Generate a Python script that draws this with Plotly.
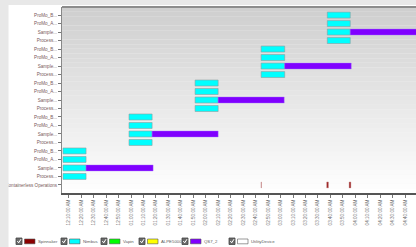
import plotly.graph_objects as go
import pandas as pd

# ---------------- data ----------------
day = "2021-06-14 "
group_labels = ["Process...", "Sample...", "ProMo_A...", "ProMo_B..."]
row_ids = ["Containerless Operations"] + [f"{lab} #{g}" for g in range(1, 6) for lab in ["Process", "Sample", "ProMo_A", "ProMo_B"]]
row_labels = ["Containerless Operations"] + [lab for g in range(5) for lab in group_labels]

nimbus_start = ["00:05:24", "00:58:24", "01:51:24", "02:44:24", "03:37:30"]
nimbus_end = ["00:23:54", "01:16:54", "02:09:54", "03:03:18", "03:55:54"]

qs7_start = ["00:23:54", "01:16:54", "02:09:54", "03:03:18", "03:55:54"]
qs7_end = ["01:17:42", "02:09:54", "03:02:54", "03:56:42", "05:00:00"]

spin_start = ["02:44:18", "03:37:00", "03:55:00"]
spin_end = ["02:44:36", "03:38:24", "03:56:24"]

legend_names = ["Spinnaker", "Nimbus", "Vapin", "ALPE5000", "QS7_2", "UtilityDevice"]
legend_colors = ["#8b0000", "#00ffff", "#00ff00", "#ffff00", "#8000ff", "#ffffff"]

x_range = ["00:04:36", "04:48:40"]
tick_start = "00:10:00"

# ---------------- build ----------------
def ts(t):
    return pd.Timestamp(day + t)

fig = go.Figure()

nb_y, nb_base, nb_x = [], [], []
for g in range(5):
    for lab in ["Process", "Sample", "ProMo_A", "ProMo_B"]:
        nb_y.append(f"{lab} #{g+1}")
        s, e = ts(nimbus_start[g]), ts(nimbus_end[g])
        nb_base.append(s)
        nb_x.append((e - s).total_seconds() * 1000)

qs_y = [f"Sample #{g+1}" for g in range(5)]
qs_base = [ts(s) for s in qs7_start]
qs_x = [(ts(e) - ts(s)).total_seconds() * 1000 for s, e in zip(qs7_start, qs7_end)]

sp_y = ["Containerless Operations"] * len(spin_start)
sp_base = [ts(s) for s in spin_start]
sp_x = [(ts(e) - ts(s)).total_seconds() * 1000 for s, e in zip(spin_start, spin_end)]

fig.add_trace(go.Bar(y=sp_y, x=sp_x, base=sp_base, orientation="h", name="Spinnaker",
                     marker=dict(color="#9b2020", line=dict(width=0.4, color="#c89090"))))
fig.add_trace(go.Bar(y=nb_y, x=nb_x, base=nb_base, orientation="h", name="Nimbus",
                     marker=dict(color="#00ffff", line=dict(width=0.6, color="#8aa0a0"))))
fig.add_trace(go.Bar(y=qs_y, x=qs_x, base=qs_base, orientation="h", name="QS7_2",
                     marker=dict(color="#8000ff", line=dict(width=0.4, color="#a070ff"))))

# ---------------- layout helpers ----------------
L, R, T, B = 62, 416, 7, 193
W, H = 416, 247

def px(x):
    return (x - L) / (R - L)

def py(y):
    return (B - y) / (B - T)

shapes = []
n = 40
for i in range(n):
    f = i / (n - 1)
    c = int(0xcf + (0xff - 0xcf) * f)
    shapes.append(dict(type="rect", xref="paper", yref="paper", x0=0, x1=1,
                       y0=1 - (i + 1) / n, y1=1 - i / n, layer="below",
                       line=dict(width=0), fillcolor=f"rgb({c},{c},{c})"))
shapes.append(dict(type="line", xref="paper", yref="paper", x0=0, x1=1, y0=1, y1=1,
                   line=dict(color="#8c8c8c", width=2)))
shapes.append(dict(type="rect", xref="paper", yref="paper", x0=px(0), x1=px(8.5),
                   y0=py(H), y1=py(0), line=dict(width=0), fillcolor="#e8e8e8", layer="above"))
shapes.append(dict(type="rect", xref="paper", yref="paper", x0=px(0), x1=px(W),
                   y0=py(5), y1=py(0), line=dict(width=0), fillcolor="#e8e8e8", layer="above"))

annotations = []
leg_x = [16, 61, 101, 139, 182, 229]
ly = 241
for xc, name, col in zip(leg_x, legend_names, legend_colors):
    shapes.append(dict(type="rect", xref="paper", yref="paper", x0=px(xc), x1=px(xc + 6),
                       y0=py(ly + 3.5), y1=py(ly - 3), line=dict(color="#444", width=0.8),
                       fillcolor="#6a6a6a"))
    shapes.append(dict(type="path", xref="paper", yref="paper",
                       path=f"M {px(xc+1.3)},{py(ly)} L {px(xc+2.7)},{py(ly+1.8)} L {px(xc+5)},{py(ly-1.8)}",
                       line=dict(color="white", width=1)))
    shapes.append(dict(type="rect", xref="paper", yref="paper", x0=px(xc + 8.5), x1=px(xc + 19),
                       y0=py(ly + 2.8), y1=py(ly - 2), line=dict(color="#555", width=0.6),
                       fillcolor=col))
    annotations.append(dict(x=px(xc + 20), y=py(ly + 0.4), xref="paper", yref="paper",
                            text=name, showarrow=False, xanchor="left", yanchor="middle",
                            font=dict(size=4.3, color="#5a5a5a")))

fig.update_layout(
    width=W, height=H, autosize=False,
    margin=dict(l=L, r=W - R, t=T, b=H - B, pad=0),
    paper_bgcolor="white", plot_bgcolor="#f4f4f4",
    barmode="overlay", bargap=0.3, showlegend=False,
    font=dict(family="Liberation Sans", size=5, color="#666"),
    shapes=shapes, annotations=annotations,
    xaxis=dict(type="date", range=[ts(x_range[0]), ts(x_range[1])],
               tick0=ts(tick_start), dtick=600000, tickformat="%I:%M:%S %p",
               tickangle=-90, tickfont=dict(size=4.6, color="#707070"),
               ticks="outside", ticklen=3, tickcolor="#777", tickwidth=1,
               showline=True, linecolor="#555", linewidth=1.5,
               showgrid=False, zeroline=False),
    yaxis=dict(type="category", categoryorder="array", categoryarray=row_ids,
               range=[-0.95, len(row_ids) - 0.05],
               tickmode="array", tickvals=row_ids, ticktext=row_labels,
               tickfont=dict(size=4.6, color="#7a5c5c"),
               ticks="outside", ticklen=3, tickcolor="#777",
               showline=True, linecolor="#888", linewidth=1,
               showgrid=False, zeroline=False),
)

fig.write_html("out.html", config={"displayModeBar": False},
               post_script="document.body.style.margin='0px';document.body.style.overflow='hidden';")
